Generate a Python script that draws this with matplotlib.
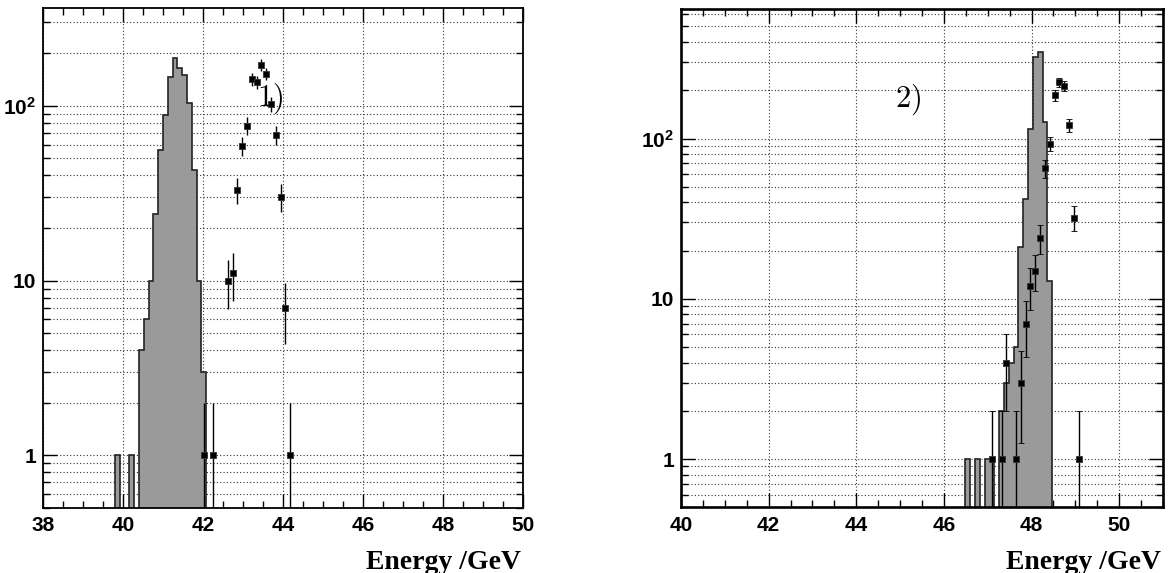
import numpy as np
import matplotlib
matplotlib.use("Agg")
import matplotlib.pyplot as plt
from matplotlib.ticker import FixedLocator, MultipleLocator, NullFormatter

plt.rcParams['mathtext.fontset'] = 'custom'
plt.rcParams['mathtext.rm'] = 'Liberation Sans:bold'
plt.rcParams['mathtext.bf'] = 'Liberation Sans:bold'
plt.rcParams['mathtext.it'] = 'Liberation Sans:bold'

# ---------------- data ----------------
# Panel 1: 100 bins from 38 to 50 GeV
left_range = (38.0, 50.0)
left_nbins = 100
left_mc_first_bin = 15
left_mc_counts = [1, 0, 0, 1, 0, 4, 6, 10, 24, 56, 89, 147, 188, 164, 149, 104, 43, 10, 3]
left_data_x = [42.02, 42.26, 42.62, 42.74, 42.86, 42.98, 43.10, 43.22, 43.34, 43.46,
               43.58, 43.70, 43.82, 43.94, 44.06, 44.18]
left_data_y = [1, 1, 10, 11, 33, 59, 77, 142, 137, 171, 152, 102, 68, 30, 7, 1]

# Panel 2: 100 bins from 40 to 51 GeV
right_range = (40.0, 51.0)
right_nbins = 100
right_mc_first_bin = 59
right_mc_counts = [1, 0, 1, 0, 1, 1, 0, 2, 3, 4, 5, 21, 42, 115, 321, 348, 126, 13]
right_data_x = [47.095, 47.315, 47.425, 47.645, 47.755, 47.865, 47.975, 48.085, 48.195,
                48.305, 48.415, 48.525, 48.635, 48.745, 48.855, 48.965, 49.075]
right_data_y = [1, 1, 4, 1, 3, 7, 12, 15, 24, 65, 93, 186, 224, 213, 121, 32, 1]

x_ticks_left = [38, 40, 42, 44, 46, 48, 50]
x_ticks_right = [40, 42, 44, 46, 48, 50]
y_ticks = [1, 10, 100]
y_tick_labels = ['1', '10', r'$10^{2}$']
panel_labels = ['1)', '2)']
x_title = 'Energy /GeV'

# ---------------- figure ----------------
W, H = 1172, 573
fig = plt.figure(figsize=(W / 100, H / 100), dpi=100)

def ax_rect(x0, x1, ytop, ybot):
    return [x0 / W, (H - ybot) / H, (x1 - x0) / W, (ybot - ytop) / H]

axL = fig.add_axes(ax_rect(43, 523, 8.3, 508))
axR = fig.add_axes(ax_rect(681, 1163, 9.3, 507.3))

tick_font = dict(family='Liberation Sans', weight='bold', size=15)


def draw_panel(ax, rng, nbins, first_bin, counts, dx, dy, xlim, ylim, xticks,
               label, label_pos, caps, frame_lw):
    edges = np.linspace(rng[0], rng[1], nbins + 1)
    vals = np.full(nbins, 1e-3)
    c = np.array(counts, dtype=float)
    c[c <= 0] = 1e-3
    vals[first_bin:first_bin + len(c)] = c
    ax.set_yscale('log')
    ax.stairs(vals, edges, fill=True, baseline=1e-3, color='#9a9a9a', zorder=2)
    ax.stairs(vals, edges, baseline=1e-3, color='#222222', lw=1.2, zorder=3)

    dx = np.array(dx)
    dy = np.array(dy, dtype=float)
    err = np.sqrt(dy)
    lo = np.minimum(err, dy - 1e-3)
    ax.errorbar(dx, dy, yerr=[lo, err], fmt='s', color='black', ms=5.0,
                mec='#333333', mew=0.6, elinewidth=1.0, ecolor='black',
                capsize=(2.0 if caps else 0), capthick=1.0, zorder=4)

    ax.set_xlim(*xlim)
    ax.set_ylim(*ylim)
    ax.xaxis.set_major_locator(FixedLocator(xticks))
    ax.xaxis.set_minor_locator(MultipleLocator(0.5))
    ax.yaxis.set_major_locator(FixedLocator(y_ticks))
    minors = [m * 10 ** e for e in range(-1, 3) for m in range(2, 10)]
    ax.yaxis.set_minor_locator(FixedLocator(minors))
    ax.yaxis.set_minor_formatter(NullFormatter())
    ax.set_xticks(xticks)
    ax.set_xticklabels([str(t) for t in xticks], fontdict=tick_font)
    ax.set_yticks(y_ticks)
    ax.set_yticklabels(y_tick_labels, fontdict=tick_font)
    ax.tick_params(which='major', direction='in', length=10, width=1.0,
                   top=True, right=True, pad=5, colors='black')
    ax.tick_params(which='minor', direction='in', length=5, width=1.0,
                   top=True, right=True)
    ax.tick_params(axis='x', which='major', pad=6)
    ax.set_axisbelow(True)
    ax.grid(True, axis='x', which='major', color='0.2', linestyle=(0, (1, 2)), lw=0.8)
    ax.grid(True, axis='y', which='both', color='0.2', linestyle=(0, (1, 2)), lw=0.8)
    for s in ax.spines.values():
        s.set_linewidth(frame_lw)
        s.set_color('black')
        s.set_zorder(6)
    ax.text(label_pos[0], label_pos[1], r'$' + label + '$', transform=ax.transAxes,
            fontsize=22, math_fontfamily='cm', ha='center', va='center', zorder=5)


draw_panel(axL, left_range, left_nbins, left_mc_first_bin, left_mc_counts,
           left_data_x, left_data_y, (38, 50), (0.5, 361), x_ticks_left,
           panel_labels[0], ((270 - 43) / 480, (508 - 99) / 499.7), False, 1.3)
draw_panel(axR, right_range, right_nbins, right_mc_first_bin, right_mc_counts,
           right_data_x, right_data_y, (40, 51), (0.5, 640), x_ticks_right,
           panel_labels[1], ((908 - 681) / 482, (507.3 - 100) / 498), True, 1.9)

title_font = dict(family='Liberation Serif', weight='bold', size=20)
fig.text(521 / W, (H - 569) / H, x_title, ha='right', va='baseline', fontdict=title_font)
fig.text(1161 / W, (H - 569) / H, x_title, ha='right', va='baseline', fontdict=title_font)

fig.savefig('out.png', dpi=100)
